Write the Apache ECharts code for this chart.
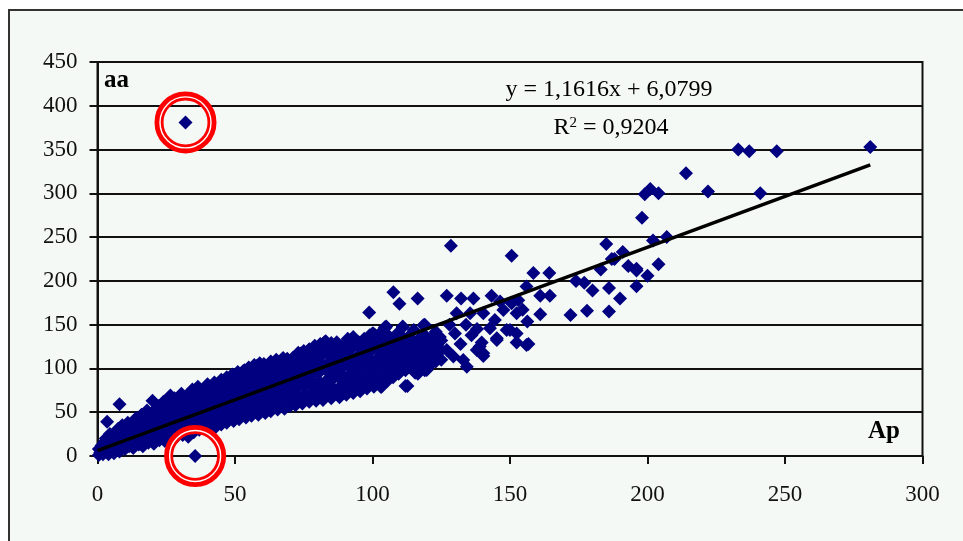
<!DOCTYPE html>
<html>
<head>
<meta charset="utf-8">
<script src="https://cdn.jsdelivr.net/npm/echarts@6/dist/echarts.min.js"></script>
<style>
  html, body { margin: 0; padding: 0; background: #ffffff; }
  #chart { width: 963px; height: 541px; }
</style>
</head>
<body>
<div id="chart"></div>
<script>
// Ap / aa measurements, [Ap, aa]
const bandLow = [
  [0.5,1],[0.5,8],[1,4],[1.5,12],[2,2],[2,9],[2.5,16],[3,5],[3,13],[3,20],[3.5,39],[4,2],[4,9],[4.5,17],[4.5,25],
  [5,6],[5.5,13],[5.5,21],[6,3],[6,10],[6.5,18],[6.5,27],[7,7],[7.5,15],[7.5,23],[7.5,31],[8,5],[8,59],[8.5,12],
  [8.5,20],[9,28],[9,35],[10,8],[10,16],[10.5,24],[10.5,33],[11,38],[11.5,11],[12,20],[12,29],[12.5,37],[13,9],
  [13.5,16],[13.5,25],[14,34],[14,43],[15,13],[15,22],[15.5,31],[16,40],[16,47],[16.5,11],[17,18],[17,27],[17.5,36],
  [18,45],[18,52],[18.5,15],[19,24],[19,33],[19.5,42],[20,50],[20,63],[20.5,14],[21,21],[21,30],[21.5,39],[22,48],
  [22,57],[22.5,18],[23,27],[23,36],[23.5,45],[24,54],[24,62],[24.5,17],[25,24],[25,33],[25.5,42],[26,51],[26,60],
  [26.5,69],[26.5,20],[27,30],[27.5,39],[27.5,48],[28,57],[28,66],[28.5,21],[29,27],[29.5,36],[29.5,45],[30,54],
  [30,63],[30.5,71],[31,24],[31.5,33],[31.5,42],[32,51],[32,60],[32.5,69],[33,22],[33,30],[33.5,39],[34,48],[34,57],
  [34.5,66],[34.5,76],[35,27],[35.5,36],[35.5,45],[36,54],[36,63],[36.5,72],[36.5,79],[37,30],[37.5,40],[37.5,49],
  [38,58],[38,67],[38.5,76],[39,33],[39.5,42],[39.5,51],[40,60],[40,70],[40,82]
];

const bandMid = [
  [40.5,31],[41,38],[41.5,47],[41.5,56],[42,65],[42.5,74],[42.5,84],[43,33],[43.5,42],[43.5,51],[44,60],[44,69],
  [44.5,78],[45,87],[45,36],[45.5,45],[46,54],[46,63],[46.5,72],[46.5,81],[47,90],[47,38],[47.5,47],[48,57],[48,66],
  [48.5,75],[48.5,84],[49,93],[49.5,40],[50,49],[50,59],[50.5,68],[50.5,77],[51,86],[51,96],[51.5,42],[52,51],[52,61],
  [52.5,70],[53,80],[53,89],[53.5,98],[54,44],[54.5,53],[54.5,63],[55,72],[55,82],[55.5,91],[56,100],[56,46],[56.5,55],
  [57,65],[57,74],[57.5,84],[58,93],[58,103],[58.5,47],[59,57],[59.5,67],[59.5,76],[60,86],[60,96],[60.5,105],[61,49],
  [61.5,59],[61.5,69],[62,79],[62,89],[62.5,99],[63,108],[63,51],[63.5,61],[64,71],[64,81],[64.5,91],[64.5,101],
  [65,110],[65.5,53],[66,63],[66,73],[66.5,83],[67,93],[67,103],[67.5,112],[68,54],[68.5,64],[68.5,75],[69,85],[69,95],
  [69.5,104],[70,57],[70,67],[70.5,77],[71,87],[71,97],[71.5,107],[72,114],[72,58],[72.5,69],[73,79],[73,89],[73.5,99],
  [74,109],[74,117],[74.5,60],[75,70],[75.5,81],[75.5,91],[76,101],[76.5,111],[77,119],[77,62],[77.5,72],[78,83],
  [78,93],[78.5,103],[79,113],[79,122],[79.5,63]
];

const bandHigh = [
  [80,74],[80.5,85],[80.5,95],[81,105],[81.5,115],[82,124],[82.5,130],[82,64],[83,76],[83.5,87],[83.5,97],[84,107],
  [84.5,117],[85,126],[85,66],[85.5,78],[86,89],[86.5,99],[87,109],[87,119],[87.5,127],[88,67],[88.5,80],[89,91],
  [89,101],[89.5,111],[90,121],[90,129],[90.5,70],[91,82],[91.5,93],[92,103],[92,113],[92.5,123],[92.5,131],[93,72],
  [93.5,84],[94,95],[94.5,105],[95,115],[95,125],[95.5,74],[96,86],[96.5,97],[97,107],[97,118],[97.5,128],[98,77],
  [98.5,88],[99,99],[99,110],[99.5,120],[100,130],[100,140],[100.5,79],[101,91],[101.5,102],[102,112],[102,122],
  [102.5,133],[103,79],[103.5,93],[104,104],[104,114],[104.5,125],[104.5,146],[105,135],[105.5,86],[106,96],[106,106],
  [106.5,117],[107,128],[107.5,90],[108,100],[108.5,110],[108.5,120],[109,131],[109.5,94],[110,104],[110.5,114],
  [111,124],[111,147],[111.5,134],[112,80],[112,98],[112.5,108],[113,118],[113.5,128],[114,102],[114.5,112],[115,122],
  [115.5,95],[116,106],[116,116],[116.5,94],[117,126],[117.5,110],[118,100],[118.5,120],[119,98],[119,150],[120,113],
  [120.5,130],[121,104],[121.5,125],[122,118],[123,108],[124,136],[125,121]
];

// further readings inside the dense part of the band
const bandFill = [
  [41,43],[41,61],[41,79],[43,46],[43,64],[43,82],[45,50],[45,68],[45,86],[47,52],[47,70],[47,88],[49,55],[49,73],
  [49,91],[51,57],[51,76],[51,94],[53,60],[53,78],[53,97],[55,62],[55,87],[55,101],[57,69],[57,89],[57,104],[59,71],
  [59,91],[59,106],[61,64],[61,84],[61,100],[63,66],[63,86],[63,103],[65,68],[65,78],[65,96],[65,108],[67,70],[67,80],
  [67,98],[67,110],[69,72],[69,90],[69,111],[71,62],[71,82],[71,92],[71,112],[73,64],[73,84],[73,104],[73,118],[75,65],
  [75,86],[75,106],[75,120],[77,67],[77,88],[77,108],[77,122],[79,68],[79,78],[79,98],[79,118],[79,126],[81,70],[81,80],
  [81,100],[81,120],[81,128],[83,71],[83,82],[83,102],[83,122],[83,131],[85,73],[85,94],[85,114],[85,129],[87,74],
  [87,96],[87,116],[87,130],[89,75],[89,86],[89,106],[89,124],[91,77],[91,88],[91,108],[91,126],[91,134],[93,79],
  [93,90],[93,110],[93,128],[93,136],[95,80],[95,92],[95,112],[95,130],[97,82],[97,102],[97,122],[97,134],[99,84],
  [99,104],[99,126],[99,138],[101,86],[101,106],[101,128],[101,138],[103,88],[103,108],[103,120],[103,141],[105,92],
  [105,112],[105,125],[105,140],[107,96],[107,114],[107,134],[109,98],[109,116],[109,126],[109,140],[111,102],[111,118],
  [111,130],[113,104],[113,113],[113,124],[113,136],[115,100],[115,110],[115,130],[115,144],[117,104],[117,118],
  [117,134],[119,108],[119,124],[119,138],[121,112],[121,120],[121,134],[123,114],[123,128],[123,142],[125,110],[125,132]
];

const spread = [
  [127,121],[129.4,113.5],[130.6,163],[128,150],[130,140],[132,128],[133,109.7],[134.3,102],[135.5,163],[134,150],
  [136,138],[137.9,121],[138,145],[139,125],[139.7,129.5],[140.3,114.3],[140.3,117.4],[140.3,163],[142.7,146],
  [144.5,155.4],[145.2,134.5],[145.2,132.6],[147.6,166.8],[148.8,144],[150,144],[152.4,140],[152.4,163],[152.4,129.5],
  [154.6,167],[150.6,174.5],[153,178],[156,126.9],[156.3,153.5],[156.7,128],[156,193.5],[161,183],[164.5,183],[161,162],
  [158.5,209],[164.3,209],[121,125],[124.5,136],[119.7,98.3],[112.7,80],[103.3,79],
  [98.8,163.8],[107.6,187],[109.8,174],[116.4,180],[127,183],[132.2,180],[136.7,180],[143.3,183],[146.4,176.4],
  [128.5,240],[150.6,228.6],[105,148],[111,148],[118.5,149.3],[100.3,140],[104.5,147]
];

const tail = [
  [172,161],[174,200],[177,198],[178,166],[180,189],[183,213],[185,242],[186,192],[186,165],[187,225],[188,225],
  [190,180],[191,233],[193,217],[196,214],[196,212],[196,194],[198,272],[199,299],[200,206],[201,305],[202,246],
  [204,219],[204,300],[207,250],[214,323],[222,302],[233,350],[237,348],[241,300],[247,348],[281,353]
];

// circled points
const outliers = [[32,381],[35.5,0]];

// linear trend: y = slope * x + intercept
const slope = 1.1616;
const intercept = 6.0799;
const trendRange = [0, 281];

const xTicks = { min: 0, max: 300, interval: 50 };
const yTicks = { min: 0, max: 450, interval: 50 };

const points = [].concat(bandLow, bandMid, bandHigh, bandFill, spread, tail, outliers);
const trendLine = trendRange.map(x => [x, slope * x + intercept]);

const serif = 'Liberation Serif';
const chart = echarts.init(document.getElementById('chart'));

chart.setOption({
  animation: false,
  backgroundColor: '#ffffff',
  grid: {
    left: 97.5, right: 40.5, top: 62, bottom: 85,
    show: true, borderColor: '#111', borderWidth: 2, backgroundColor: 'transparent'
  },
  xAxis: {
    type: 'value', min: xTicks.min, max: xTicks.max, interval: xTicks.interval,
    axisLine: { show: true, onZero: false, lineStyle: { color: '#111', width: 2 } },
    axisTick: { show: true, inside: false, length: 8, lineStyle: { color: '#111', width: 2 } },
    splitLine: { show: false },
    axisLabel: { color: '#111', fontFamily: serif, fontSize: 23, margin: 27 }
  },
  yAxis: {
    type: 'value', min: yTicks.min, max: yTicks.max, interval: yTicks.interval,
    axisLine: { show: true, onZero: false, lineStyle: { color: '#111', width: 2 } },
    axisTick: { show: true, length: 8, lineStyle: { color: '#111', width: 2 } },
    splitLine: { show: true, lineStyle: { color: '#111', width: 2 } },
    axisLabel: { color: '#111', fontFamily: serif, fontSize: 23, margin: 20 }
  },
  series: [
    {
      type: 'scatter',
      data: points,
      symbol: 'diamond',
      symbolSize: 14,
      itemStyle: { color: '#000080', opacity: 1 },
      z: 2
    },
    {
      type: 'line',
      data: trendLine,
      symbol: 'none',
      lineStyle: { color: '#000', width: 3.5 },
      z: 3
    }
  ]
});

// frame, labels, equation and the rings around the two circled points
const ringAt = p => {
  const c = chart.convertToPixel({ seriesIndex: 0 }, p);
  return [
    { type: 'circle', shape: { cx: c[0], cy: c[1], r: 26.5 }, style: { fill: 'none', stroke: '#ff0000', lineWidth: 9 }, z: 100 },
    { type: 'circle', shape: { cx: c[0], cy: c[1], r: 25.5 }, style: { fill: 'none', stroke: '#ffffff', lineWidth: 1.4 }, z: 101 }
  ];
};

chart.setOption({
  graphic: [
    { type: 'rect', shape: { x: 9, y: 10, width: 1000, height: 600 }, style: { fill: '#f5f9f5', stroke: '#333', lineWidth: 2 }, z: -10, silent: true },
    { type: 'text', left: 104, top: 68, style: { text: 'aa', font: 'bold 25px "Liberation Serif"', fill: '#000' }, z: 50 },
    { type: 'text', left: 868, top: 419, style: { text: 'Ap', font: 'bold 25px "Liberation Serif"', fill: '#000' }, z: 50 },
    { type: 'text', x: 609, y: 90, style: { text: 'y = 1,1616x + 6,0799', font: '24px "Liberation Serif"', fill: '#000', align: 'center', verticalAlign: 'middle' }, z: 50 },
    { type: 'text', x: 611, y: 128, style: {
        text: '{a|R}{s|2}{a| = 0,9204}', align: 'center', verticalAlign: 'middle',
        rich: {
          a: { fontFamily: serif, fontSize: 24, color: '#000' },
          s: { fontFamily: serif, fontSize: 15, color: '#000', verticalAlign: 'top', padding: [0, 0, 10, 0] }
        }
      }, z: 50 },
    ...ringAt(outliers[0]),
    ...ringAt(outliers[1])
  ]
});
</script>
</body>
</html>
